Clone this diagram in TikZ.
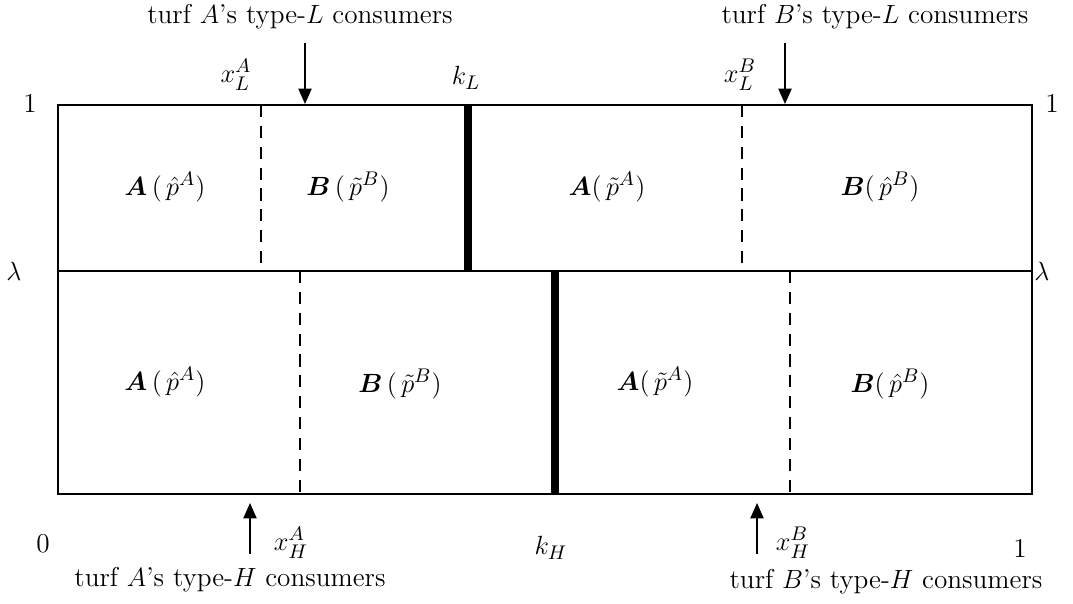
\documentclass[tikz,border=0pt]{standalone}
\usepackage{amsmath, amssymb}
\usepackage{bm}
\usetikzlibrary{arrows.meta, positioning}

\begin{document}
\begin{tikzpicture}[
    x=0.016cm, y=-0.016cm,
    every node/.style={font=\fontsize{12.4}{15}\selectfont, inner sep=1pt},
    frame/.style={line width=0.8pt},
    cut/.style={line width=0.6pt, dash pattern=on 5.5pt off 4pt},
    bound/.style={line width=3.9pt},
    pointer/.style={-{Triangle[length=7pt, width=6pt]}, line width=0.7pt},
    cell/.style={font=\fontsize{12.4}{15}\selectfont}
]
\useasboundingbox (0,0) rectangle (1073,604);

% frame and split between the two consumer types
\draw[frame] (58,105) rectangle (1032,494);
\draw[frame] (58,271) -- (1032,271);

% indifferent consumers
\draw[cut] (261,105) -- (261,271);
\draw[cut] (742,105) -- (742,271);
\draw[cut] (300,271) -- (300,494);
\draw[cut] (790,271) -- (790,494);

% turf borders
\draw[bound] (468,105) -- (468,271);
\draw[bound] (555,271) -- (555,494);

% axis labels
\node (oneTL) at (30,103) {1};
\node (oneTR) at (1052,103) {1};
\node (lamL) at (14,271) {$\lambda$};
\node (lamR) at (1042,271) {$\lambda$};
\node (zero) at (43,544) {0};
\node (oneBR) at (1020,548) {1};

% top labels
\node (xLA) at (236,75) {$x_L^A$};
\node (kL) at (466,78) {$k_L$};
\node (xLB) at (740,75) {$x_L^B$};
\node (turfAL) at (300,17) {turf $A$'s type-$L$ consumers};
\node (turfBL) at (875,17) {turf $B$'s type-$L$ consumers};
\coordinate (tAL) at (305,43);
\coordinate (hAL) at (305,104);
\coordinate (tBL) at (785,43);
\coordinate (hBL) at (785,104);
\draw[pointer] (tAL) -- (hAL);
\draw[pointer] (tBL) -- (hBL);

% bottom labels
\node (xHA) at (291,543) {$x_H^A$};
\node (kH) at (551,548) {$k_H$};
\node (xHB) at (793,543) {$x_H^B$};
\node (turfAH) at (230,580) {turf $A$'s type-$H$ consumers};
\node (turfBH) at (886,582) {turf $B$'s type-$H$ consumers};
\coordinate (tAH) at (250,554);
\coordinate (hAH) at (250,503);
\coordinate (tBH) at (757,554);
\coordinate (hBH) at (757,503);
\draw[pointer] (tAH) -- (hAH);
\draw[pointer] (tBH) -- (hBH);

% who serves whom
\node[cell] (c11) at (165,187) {$\bm{A}\,(\,\hat{p}^{A})$};
\node[cell] (c12) at (348,187) {$\bm{B}\,(\,\tilde{p}^{B})$};
\node[cell] (c13) at (607,187) {$\bm{A}(\,\tilde{p}^{A})$};
\node[cell] (c14) at (880,187) {$\bm{B}(\,\hat{p}^{B})$};
\node[cell] (c21) at (165,382) {$\bm{A}\,(\,\hat{p}^{A})$};
\node[cell] (c22) at (400,384) {$\bm{B}\,(\,\tilde{p}^{B})$};
\node[cell] (c23) at (655,382) {$\bm{A}(\,\tilde{p}^{A})$};
\node[cell] (c24) at (890,384) {$\bm{B}(\,\hat{p}^{B})$};
\end{tikzpicture}
\end{document}
